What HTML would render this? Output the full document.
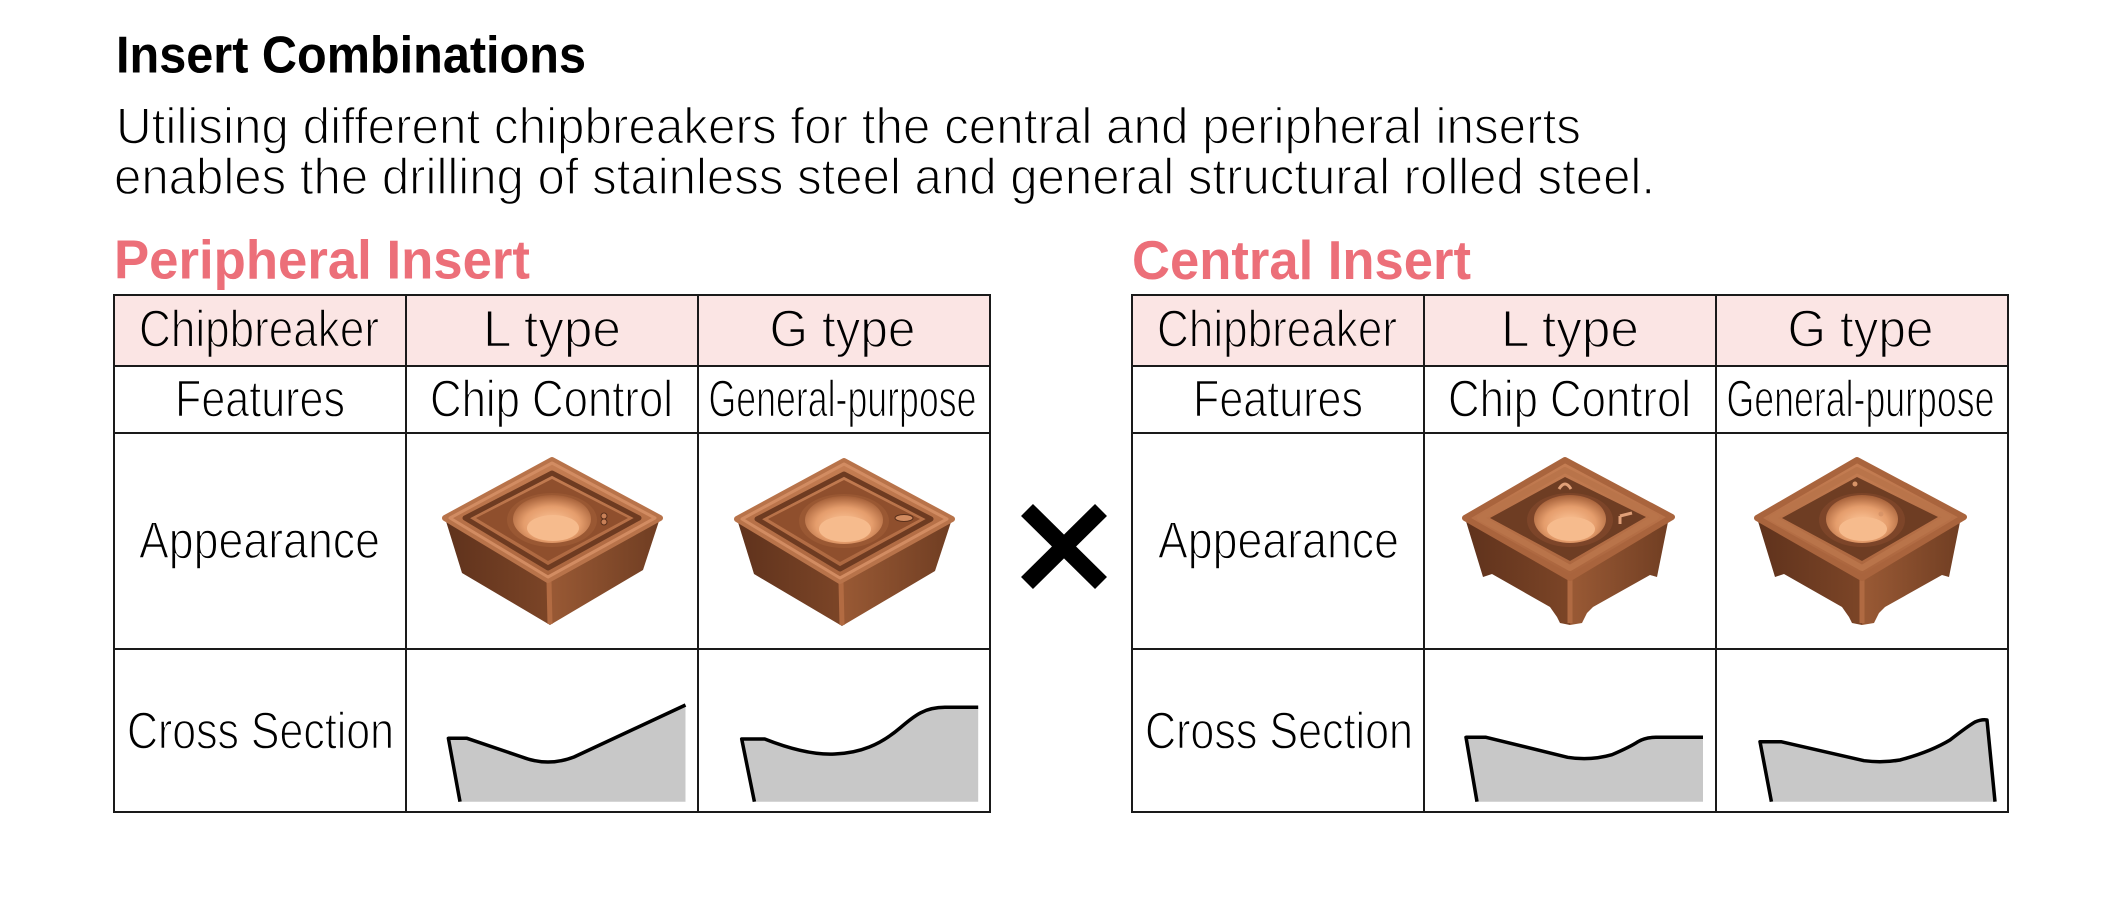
<!DOCTYPE html>
<html>
<head>
<meta charset="utf-8">
<style>
  html,body{margin:0;padding:0;background:#fff;}
  svg{display:block;}
  text{font-family:"Liberation Sans", sans-serif;}
</style>
</head>
<body>
<svg width="2122" height="901" viewBox="0 0 2122 901" xmlns="http://www.w3.org/2000/svg">
  <defs>
    <linearGradient id="topf" x1="0" y1="0" x2="0" y2="1">
      <stop offset="0" stop-color="#c57e53"/>
      <stop offset="1" stop-color="#a9643d"/>
    </linearGradient>
    <linearGradient id="lside" x1="0" y1="0" x2="1" y2="0">
      <stop offset="0" stop-color="#5f321c"/>
      <stop offset="1" stop-color="#7c4527"/>
    </linearGradient>
    <linearGradient id="rside" x1="0" y1="0" x2="1" y2="0">
      <stop offset="0" stop-color="#9a5a35"/>
      <stop offset="1" stop-color="#6f3d22"/>
    </linearGradient>
    <radialGradient id="holeg" cx="0.5" cy="0.6" r="0.6">
      <stop offset="0" stop-color="#ffc99c"/>
      <stop offset="0.6" stop-color="#e59d6c"/>
      <stop offset="1" stop-color="#a45f38"/>
    </radialGradient>

    <g id="pins">
      <polygon points="-106,-1 -89,54 -1,106 -3,61" fill="url(#lside)"/>
      <polygon points="-3,61 -1,106 92,51 109,-1" fill="url(#rside)"/>
      <line x1="-2" y1="62" x2="-1" y2="105" stroke="#b26b42" stroke-width="5"/>
      <polygon points="1,-59 109,-1 -3,61 -106,-1" fill="url(#topf)" stroke="#b8734a" stroke-width="6" stroke-linejoin="round"/>
      <polygon points="1,-56 104,-1 -3,58 -101,-1" fill="none" stroke="#d28c62" stroke-width="3" stroke-linejoin="round"/>
      <polygon points="1,-46 88,-1 -3,49 -86,-1" fill="none" stroke="#6e3b21" stroke-width="5" stroke-linejoin="round"/>
      <polygon points="1,-40 77,-1 -3,42 -75,-1" fill="#8f4f2d"/>
      <ellipse cx="1" cy="1" rx="45" ry="27" fill="#9a5833"/>
      <ellipse cx="1" cy="0" rx="39" ry="24" fill="url(#holeg)"/>
      <ellipse cx="2" cy="9" rx="26" ry="13" fill="#f6bb8d"/>
    </g>

    <g id="cins">
      <polygon points="-103,-1 -85,58 -76,55 -18,88 -11,98 -8,104 2,106 2,59" fill="url(#lside)"/>
      <polygon points="2,59 2,106 14,104 19,94 25,88 82,56 89,58 100,3 104,-2" fill="url(#rside)"/>
      <line x1="2" y1="60" x2="2" y2="104" stroke="#b06a42" stroke-width="5"/>
      <polygon points="-3,-59 104,-2 2,59 -103,-1" fill="url(#topf)" stroke="#a9643d" stroke-width="6" stroke-linejoin="round"/>
      <polygon points="-3,-49 88,-2 2,49 -88,-1" fill="none" stroke="#b9744a" stroke-width="6" stroke-linejoin="round"/>
      <polygon points="-3,-42 78,-2 2,42 -78,-1" fill="#6e3d23"/>
      <ellipse cx="2" cy="1" rx="43" ry="27" fill="#7d4529"/>
      <ellipse cx="2" cy="0" rx="36" ry="24" fill="url(#holeg)"/>
      <ellipse cx="3" cy="10" rx="24" ry="12" fill="#f6bb8d"/>
    </g>
  </defs>

  <!-- Headings -->
  <text x="116" y="72.7" font-size="52" font-weight="bold" fill="#000" textLength="470" lengthAdjust="spacingAndGlyphs">Insert Combinations</text>
  <g stroke="#fff" stroke-width="1.4">
    <text x="116" y="143.3" font-size="51" fill="#000" textLength="1465" lengthAdjust="spacingAndGlyphs">Utilising different chipbreakers for the central and peripheral inserts</text>
    <text x="114" y="194" font-size="51" fill="#000" textLength="1541" lengthAdjust="spacingAndGlyphs">enables the drilling of stainless steel and general structural rolled steel.</text>
  </g>

  <text x="114" y="278.3" font-size="55" font-weight="bold" fill="#ec6f79" textLength="416" lengthAdjust="spacingAndGlyphs">Peripheral Insert</text>
  <text x="1132" y="279" font-size="55" font-weight="bold" fill="#ec6f79" textLength="339" lengthAdjust="spacingAndGlyphs">Central Insert</text>

  <!-- Header backgrounds -->
  <rect x="114" y="295" width="876" height="71" fill="#fbe5e4"/>
  <rect x="1132" y="295" width="876" height="71" fill="#fbe5e4"/>

  <!-- Left table grid -->
  <g stroke="#1a1a1a" stroke-width="2" fill="none">
    <rect x="114" y="295" width="876" height="517"/>
    <line x1="406" y1="295" x2="406" y2="812"/>
    <line x1="698" y1="295" x2="698" y2="812"/>
    <line x1="114" y1="366" x2="990" y2="366"/>
    <line x1="114" y1="433" x2="990" y2="433"/>
    <line x1="114" y1="649" x2="990" y2="649"/>
  </g>
  <!-- Right table grid -->
  <g stroke="#1a1a1a" stroke-width="2" fill="none">
    <rect x="1132" y="295" width="876" height="517"/>
    <line x1="1424" y1="295" x2="1424" y2="812"/>
    <line x1="1716" y1="295" x2="1716" y2="812"/>
    <line x1="1132" y1="366" x2="2008" y2="366"/>
    <line x1="1132" y1="433" x2="2008" y2="433"/>
    <line x1="1132" y1="649" x2="2008" y2="649"/>
  </g>

  <!-- Header row text (pink bg) -->
  <g font-size="52" fill="#000" stroke="#fbe5e4" stroke-width="1.4">
    <text x="139" y="346.5" textLength="240" lengthAdjust="spacingAndGlyphs">Chipbreaker</text>
    <text x="483" y="346.5" textLength="138" lengthAdjust="spacingAndGlyphs">L type</text>
    <text x="769.5" y="346.5" textLength="146" lengthAdjust="spacingAndGlyphs">G type</text>
    <text x="1157" y="346.5" textLength="240" lengthAdjust="spacingAndGlyphs">Chipbreaker</text>
    <text x="1501" y="346.5" textLength="138" lengthAdjust="spacingAndGlyphs">L type</text>
    <text x="1787.5" y="346.5" textLength="146" lengthAdjust="spacingAndGlyphs">G type</text>
  </g>
  <!-- Other table text -->
  <g font-size="52" fill="#000" stroke="#fff" stroke-width="1.4">
    <text x="175" y="416.7" textLength="170" lengthAdjust="spacingAndGlyphs">Features</text>
    <text x="430" y="416.7" textLength="243" lengthAdjust="spacingAndGlyphs">Chip Control</text>
    <text x="708.5" y="416.7" textLength="268" lengthAdjust="spacingAndGlyphs">General-purpose</text>
    <text x="139" y="558" textLength="241" lengthAdjust="spacingAndGlyphs">Appearance</text>
    <text x="127" y="748.3" textLength="267" lengthAdjust="spacingAndGlyphs">Cross Section</text>
    <text x="1193" y="416.7" textLength="170" lengthAdjust="spacingAndGlyphs">Features</text>
    <text x="1448" y="416.7" textLength="243" lengthAdjust="spacingAndGlyphs">Chip Control</text>
    <text x="1726.5" y="416.7" textLength="268" lengthAdjust="spacingAndGlyphs">General-purpose</text>
    <text x="1158" y="558" textLength="241" lengthAdjust="spacingAndGlyphs">Appearance</text>
    <text x="1145" y="748.3" textLength="268" lengthAdjust="spacingAndGlyphs">Cross Section</text>
  </g>

  <!-- Inserts -->
  <use href="#pins" transform="translate(551,519)"/>
  <use href="#pins" transform="translate(843,520)"/>
  <circle cx="604" cy="516" r="3" fill="#c98158" stroke="#5a301b" stroke-width="1"/>
  <circle cx="604" cy="522" r="3" fill="#c98158" stroke="#5a301b" stroke-width="1"/>
  <ellipse cx="904" cy="518" rx="9" ry="3.5" fill="#d18b60" stroke="#5a301b" stroke-width="1"/>

  <use href="#cins" transform="translate(1568,519)"/>
  <use href="#cins" transform="translate(1860,519)"/>
  <path d="M1559,489 q6,-10 12,0" fill="none" stroke="#e0a078" stroke-width="3"/>
  <path d="M1620,516 l12,-3 M1620,516 l0,8" fill="none" stroke="#e0a078" stroke-width="3"/>
  <circle cx="1855" cy="484" r="2.5" fill="#d89468"/>
  <circle cx="1881" cy="514" r="2.5" fill="#d89468"/>

  <!-- X mark -->
  <g stroke="#000" stroke-width="17" stroke-linecap="butt">
    <line x1="1027" y1="510" x2="1101" y2="583"/>
    <line x1="1101" y1="510" x2="1027" y2="583"/>
  </g>

  <!-- Cross sections: peripheral L -->
  <path d="M460,801.7 L448.4,738.3 L467,738.3 L522,757 Q548,767 574,757 L685.5,705 L685.5,801.7 Z" fill="#c8c8c8"/>
  <path d="M460,801.7 L448.4,738.3 L467,738.3 L522,757 Q548,767 574,757 L685.5,705" fill="none" stroke="#000" stroke-width="3.5" stroke-linejoin="round"/>

  <!-- peripheral G -->
  <path d="M754.4,801.7 L741.7,739 L764.7,739 C790,749 815,755 834.7,754 C860,753 880,745 900,728 C915,715 925,707.3 945,707.3 L978.2,707.3 L978.2,801.7 Z" fill="#c8c8c8"/>
  <path d="M754.4,801.7 L741.7,739 L764.7,739 C790,749 815,755 834.7,754 C860,753 880,745 900,728 C915,715 925,707.3 945,707.3 L978.2,707.3" fill="none" stroke="#000" stroke-width="3.5" stroke-linejoin="round"/>

  <!-- central L -->
  <path d="M1477,801.7 L1466,737.3 L1486,737.3 L1567.6,757.3 Q1590,761 1612,754.7 Q1630,747 1638,741.7 Q1645,737.3 1656,737.3 L1703,737.3 L1703,801.7 Z" fill="#c8c8c8"/>
  <path d="M1477,801.7 L1466,737.3 L1486,737.3 L1567.6,757.3 Q1590,761 1612,754.7 Q1630,747 1638,741.7 Q1645,737.3 1656,737.3 L1703,737.3" fill="none" stroke="#000" stroke-width="3.5" stroke-linejoin="round"/>

  <!-- central G -->
  <path d="M1771.4,801.7 L1760,741.7 L1781,741.7 L1864,760.7 Q1882.5,763 1900,760 Q1930,752 1950,740 Q1968,726 1975,722 Q1982,719 1987,720 L1995,801.7 Z" fill="#c8c8c8"/>
  <path d="M1771.4,801.7 L1760,741.7 L1781,741.7 L1864,760.7 Q1882.5,763 1900,760 Q1930,752 1950,740 Q1968,726 1975,722 Q1982,719 1987,720 L1995,801.7" fill="none" stroke="#000" stroke-width="3.5" stroke-linejoin="round"/>
</svg>
</body>
</html>
